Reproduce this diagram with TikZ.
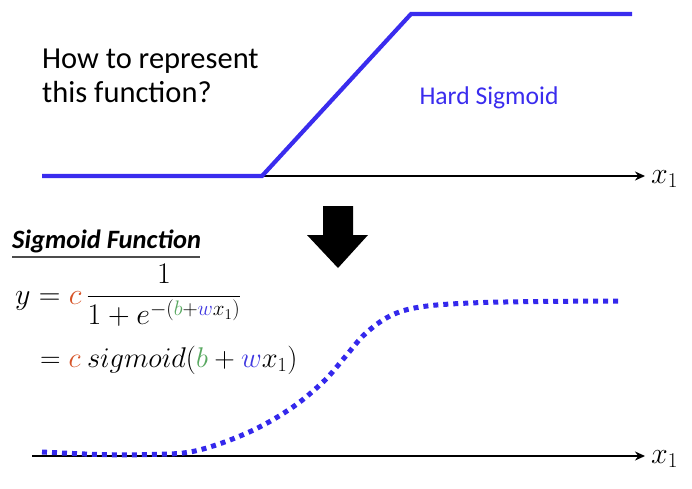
\RequirePackage{fix-cm}
\documentclass[tikz,border=0pt]{standalone}
\usepackage{fontspec}
\setmainfont{Carlito}
\usetikzlibrary{arrows.meta}
\definecolor{hsblue}{RGB}{58,44,238}
\definecolor{dotblue}{RGB}{52,40,236}
\definecolor{corange}{RGB}{214,84,40}
\definecolor{bgreen}{RGB}{88,168,96}
\definecolor{wblue}{RGB}{64,56,224}
\tikzset{
  axis/.style={line width=2.6pt, -{Stealth[length=10pt,width=9pt]}},
  hard/.style={hsblue, line width=4.2pt, line join=miter},
  soft/.style={dotblue, line width=5pt, dash pattern=on 5pt off 5pt},
  txt/.style={inner sep=0pt, anchor=base west, font=\fontsize{30.5}{34}\selectfont},
  mth/.style={inner sep=0pt, font=\fontsize{30}{34}\selectfont},
}
\begin{document}
\begin{tikzpicture}[x=1pt,y=-1pt]
\useasboundingbox (0,0) rectangle (692,488);
% top axis
\coordinate (ta0) at (42,176);
\coordinate (ta1) at (645,176);
\draw[axis] (ta0) -- (ta1);
\node[mth, anchor=base west] (tx) at (651,183) {$x_1$};
% hard sigmoid
\coordinate (h0) at (42,176);
\coordinate (h1) at (262,176);
\coordinate (h2) at (411,14);
\coordinate (h3) at (632,14);
\draw[hard] (h0) -- (h1) -- (h2) -- (h3);
\node[txt] (q1) at (42,68) {How to represent};
\node[txt] (q2) at (42,102) {this function?};
\node[inner sep=0pt, anchor=base, hsblue, font=\fontsize{25.6}{30}\selectfont] (hs) at (489,104) {Hard Sigmoid};
% down arrow
\fill (323,206) -- (353,206) -- (353,235) -- (368,235) -- (338,268) -- (307,235) -- (323,235) -- cycle;
% sigmoid function title
\node[inner sep=0pt, anchor=base west, font=\fontsize{26.5}{30}\selectfont\bfseries\itshape] (sf) at (12,248) {Sigmoid Function};
\draw[line width=1.8pt, gray!60!black] (12,257) -- (200,257);
% equations
\node[mth, anchor=base west] (eq1) at (15,304) {$\displaystyle y = {\color{corange}c}\,\frac{1}{1+e^{-({\color{bgreen}b}+{\color{wblue}w}x_1)}}$};
\node[mth, anchor=base west, font=\fontsize{28.5}{32}\selectfont] (eq2) at (40,367) {$= {\color{corange}c}\ sigmoid({\color{bgreen}b} + {\color{wblue}w}x_1)$};
% bottom axis
\coordinate (ba0) at (32,456);
\coordinate (ba1) at (645,456);
\draw[axis] (ba0) -- (ba1);
\node[mth, anchor=base west] (bx) at (651,463) {$x_1$};
% soft sigmoid
\draw[soft] plot[smooth, tension=0.6] coordinates {(42,452) (100,454.5) (150,454.5) (195,451) (247,433) (290,409) (323,382) (345,357) (365,334) (390,316) (420,307) (470,303) (540,301.5) (620,301)};
\end{tikzpicture}
\end{document}
